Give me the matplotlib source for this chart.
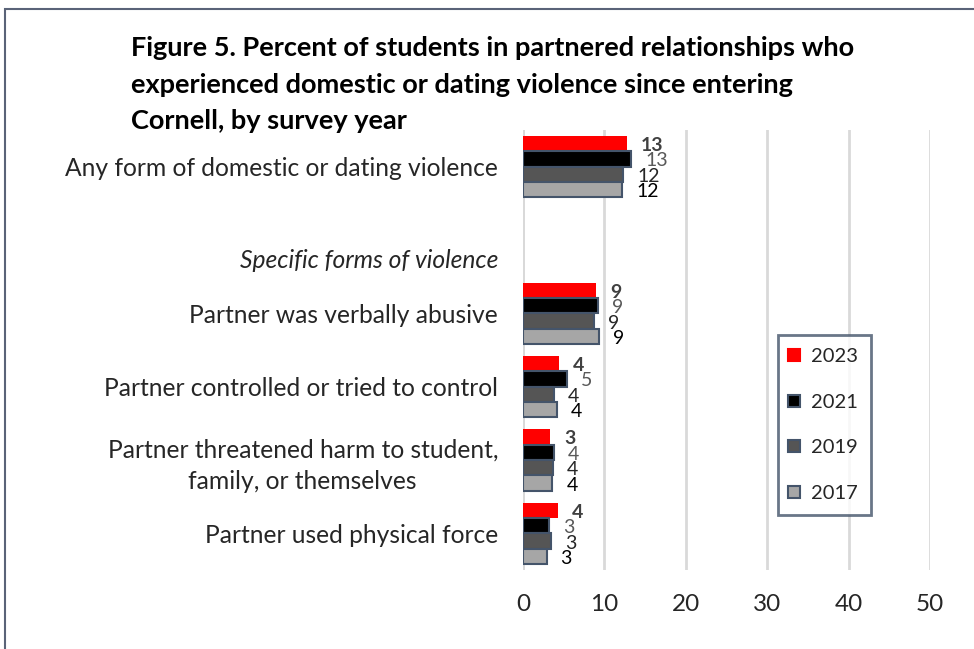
import numpy as np
import matplotlib
matplotlib.use("Agg")
import matplotlib.pyplot as plt
from matplotlib.lines import Line2D
from matplotlib.patches import Rectangle

plt.rcParams['font.family'] = ['Lato', 'DejaVu Sans']

# categories, top to bottom
categories = [
    "Any form of domestic or dating violence",
    "Specific forms of violence",
    "Partner was verbally abusive",
    "Partner controlled or tried to control",
    "Partner threatened harm to student,\nfamily, or themselves",
    "Partner used physical force",
]
years = ["2023", "2021", "2019", "2017"]
# percent values per year (nan = heading row without bars)
v2023 = [12.8, np.nan, 9.0, 4.4, 3.3, 4.3]
v2021 = [13.3, np.nan, 9.2, 5.4, 3.8, 3.2]
v2019 = [12.3, np.nan, 8.7, 3.8, 3.7, 3.4]
v2017 = [12.2, np.nan, 9.3, 4.2, 3.6, 2.9]
xticks = [0, 10, 20, 30, 40, 50]

series = [v2023, v2021, v2019, v2017]
colors = ["#FF0000", "#000000", "#555555", "#A6A6A6"]
edges = ["#FF0000", "#44546A", "#44546A", "#44546A"]
label_colors = ["#404040", "#595959", "#262626", "#000000"]
label_weights = ["bold", "normal", "normal", "normal"]
txt = "#262626"

fig = plt.figure(figsize=(9.74, 6.49), dpi=100)
ax = fig.add_axes([523 / 974, 1 - 570 / 649, (930 - 523) / 974, 440 / 649])

y = np.arange(len(categories))
h = 0.21
for i, vals in enumerate(series):
    pos = y - 1.5 * h + i * h
    vals = np.array(vals)
    ok = ~np.isnan(vals)
    ax.barh(pos[ok], vals[ok], height=h, color=colors[i], edgecolor=edges[i],
            linewidth=1.5 if i > 0 else 0, zorder=3)
    for p, v in zip(pos[ok], vals[ok]):
        ax.annotate(f"{v:.0f}", xy=(v, p), xytext=(14, -2), textcoords="offset pixels",
                    ha="left", va="center", fontsize=14, color=label_colors[i],
                    fontweight=label_weights[i])

ax.set_xlim(0, 50)
ax.set_ylim(len(categories) - 0.5, -0.5)
ax.set_xticks(xticks)
ax.set_xticklabels([str(t) for t in xticks], fontsize=17.5, color=txt)
ax.set_yticks(y)
# the heading row is drawn separately, a little lower than its slot
ax.set_yticklabels(["" if c.startswith("Specific") else c for c in categories],
                   fontsize=17.7, color=txt)
for lab in ax.get_yticklabels():
    lab.set_multialignment("center")
    lab.set_linespacing(1.4)
ax.annotate(categories[1], xy=(0, 1), xycoords=("axes fraction", "data"),
            xytext=(-25, -21), textcoords="offset pixels", ha="right", va="center",
            fontsize=17.7, style="italic", color=txt)
ax.tick_params(axis="y", length=0, pad=18)
ax.tick_params(axis="x", length=0, pad=17)
ax.grid(axis="x", color="#D9D9D9", linewidth=2, zorder=0)
ax.axvline(0, color="#D9D9D9", linewidth=2, zorder=1)
for s in ax.spines.values():
    s.set_visible(False)

handles = [Line2D([], [], marker="s", linestyle="none", markersize=8.5,
                  markerfacecolor=colors[i], markeredgecolor=edges[i], markeredgewidth=1.5)
           for i in range(4)]
leg = fig.legend(handles, years, loc="upper left", bbox_to_anchor=(778 / 974, 1 - 335 / 649),
                 fontsize=14.5, frameon=True, fancybox=False, labelspacing=1.42,
                 handlelength=0.3, handletextpad=0.7, borderpad=0.64, borderaxespad=0)
leg.get_frame().set_edgecolor("#44546A")
leg.get_frame().set_linewidth(2)
for t in leg.get_texts():
    t.set_color(txt)

fig.text(131 / 974, 1 - 36 / 649,
         "Figure 5. Percent of students in partnered relationships who\n"
         "experienced domestic or dating violence since entering\n"
         "Cornell, by survey year",
         ha="left", va="top", fontsize=19.5, fontweight="bold", color="#000000",
         linespacing=1.63)

# outer chart frame
fig.patches.append(Rectangle((5 / 974, -0.1), 2, 1.1 - 9 / 649, transform=fig.transFigure,
                             fill=False, edgecolor="#5A6378", linewidth=1.5))

fig.savefig("out.png", dpi=100)
